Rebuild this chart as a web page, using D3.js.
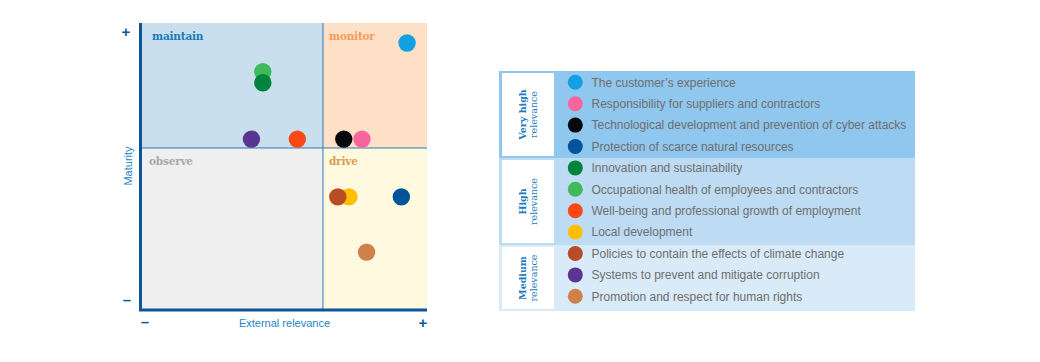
<!DOCTYPE html>
<html>
<head>
<meta charset="utf-8">
<script src="https://cdn.jsdelivr.net/npm/d3@7"></script>
<style>
  body { margin: 0; background: #fff; }
  svg { display: block; }
</style>
</head>
<body>
<div class="chart"></div>
<script>
// topics, colours and positions on the matrix (0-100 on both axes)
var topics = [
  "The customer\u2019s experience",
  "Responsibility for suppliers and contractors",
  "Technological development and prevention of cyber attacks",
  "Protection of scarce natural resources",
  "Innovation and sustainability",
  "Occupational health of employees and contractors",
  "Well-being and professional growth of employment",
  "Local development",
  "Policies to contain the effects of climate change",
  "Systems to prevent and mitigate corruption",
  "Promotion and respect for human rights"
];
var topicColors = ["#12a0e3", "#f7659f", "#05090c", "#00549a", "#00843d", "#3fb95b",
  "#fb4814", "#ffbf00", "#b84c24", "#5a3592", "#d0814a"];
var externalRelevance = [93.0, 77.2, 70.8, 91.0, 42.4, 42.4, 54.5, 72.6, 68.7, 38.4, 78.8];
var maturity = [93.0, 59.4, 59.4, 39.2, 79.1, 83.0, 59.4, 39.2, 39.2, 59.4, 19.9];

var groups = ["Very high|relevance", "High|relevance", "Medium|relevance"];
var groupSizes = [4, 4, 3];
var groupColors = ["#90c7ee", "#bddcf3", "#d9eaf8"];

var quadrants = ["maintain", "monitor", "observe", "drive"];
var splitX = 63.5, splitY = 56.3;

var svgWidth = 1040, svgHeight = 362;
var svg = d3.select(".chart").append("svg")
  .attr("width", svgWidth).attr("height", svgHeight);

// ---- matrix ----
var plot = {left: 142, right: 427, top: 23, bottom: 309};
var x = d3.scaleLinear().domain([0, 100]).range([plot.left, plot.right]);
var y = d3.scaleLinear().domain([0, 100]).range([plot.bottom, plot.top]);

var quadData = [
  {name: quadrants[0], x0: 0, x1: splitX, y0: splitY, y1: 100, fill: "#c9dfed", color: "#1b7bb8"},
  {name: quadrants[1], x0: splitX, x1: 100, y0: splitY, y1: 100, fill: "#fee0c6", color: "#f59c5a"},
  {name: quadrants[2], x0: 0, x1: splitX, y0: 0, y1: splitY, fill: "#efefef", color: "#a8a8a8"},
  {name: quadrants[3], x0: splitX, x1: 100, y0: 0, y1: splitY, fill: "#fffadf", color: "#d99d4f"}
];

svg.selectAll("rect.quad").data(quadData).enter().append("rect")
  .attr("class", "quad")
  .attr("x", d => x(d.x0)).attr("y", d => y(d.y1))
  .attr("width", d => x(d.x1) - x(d.x0)).attr("height", d => y(d.y0) - y(d.y1))
  .attr("fill", d => d.fill);

svg.selectAll("text.quad").data(quadData).enter().append("text")
  .attr("class", "quad")
  .attr("x", d => x(d.x0) + (d.x0 === 0 ? (d.y0 === 0 ? 7 : 10) : 6))
  .attr("y", d => y(d.y1) + 17)
  .attr("font-family", "DejaVu Serif")
  .attr("font-weight", "bold")
  .attr("font-size", "10.5px")
  .attr("letter-spacing", "-0.2px")
  .attr("fill", d => d.color)
  .text(d => d.name);

// dividers
svg.append("line")
  .attr("x1", x(splitX)).attr("x2", x(splitX)).attr("y1", y(100)).attr("y2", y(0))
  .attr("stroke", "#2b7cb8").attr("stroke-width", 1);
svg.append("line")
  .attr("x1", x(0)).attr("x2", x(100)).attr("y1", y(splitY)).attr("y2", y(splitY))
  .attr("stroke", "#2b7cb8").attr("stroke-width", 1);

// axes
svg.append("line")
  .attr("x1", x(0) - 1.5).attr("x2", x(0) - 1.5).attr("y1", y(100)).attr("y2", y(0) + 2)
  .attr("stroke", "#0b559b").attr("stroke-width", 3);
svg.append("line")
  .attr("x1", x(0) - 3).attr("x2", x(100)).attr("y1", y(0) + 1).attr("y2", y(0) + 1)
  .attr("stroke", "#0b559b").attr("stroke-width", 3);

var signs = [
  {t: "+", px: 126, py: 37},
  {t: "\u2013", px: 127, py: 305},
  {t: "\u2013", px: 145, py: 327},
  {t: "+", px: 423, py: 328}
];
svg.selectAll("text.sign").data(signs).enter().append("text")
  .attr("class", "sign")
  .attr("x", d => d.px).attr("y", d => d.py)
  .attr("text-anchor", "middle")
  .attr("font-family", "Liberation Sans, Arial, sans-serif")
  .attr("font-weight", "bold").attr("font-size", "15px")
  .attr("fill", "#0b559b")
  .text(d => d.t);

svg.append("text")
  .attr("x", (plot.left + plot.right) / 2).attr("y", 327)
  .attr("text-anchor", "middle")
  .attr("font-family", "Liberation Sans, Arial, sans-serif")
  .attr("font-size", "11px").attr("fill", "#2586c6")
  .text("External relevance");

svg.append("text")
  .attr("transform", `translate(132, ${(plot.top + plot.bottom) / 2}) rotate(-90)`)
  .attr("text-anchor", "middle")
  .attr("font-family", "Liberation Sans, Arial, sans-serif")
  .attr("font-size", "11px").attr("fill", "#2586c6")
  .text("Maturity");

// points
var points = topics.map((t, i) => ({name: t, ext: externalRelevance[i], mat: maturity[i], color: topicColors[i], i: i}));
// draw in an order so overlaps look like the original
var drawOrder = [5, 4, 7, 8, 0, 1, 2, 3, 6, 9, 10];
svg.selectAll("circle.pt").data(drawOrder.map(i => points[i])).enter().append("circle")
  .attr("class", "pt")
  .attr("cx", d => x(d.ext)).attr("cy", d => y(d.mat))
  .attr("r", 8.7)
  .attr("fill", d => d.color);

// ---- legend ----
var lg = {left: 499, right: 915, top: 71, rowH: 21.4, cellW: 52};
var rowY = d3.scaleLinear().domain([0, 1]).range([lg.top + 11.3, lg.top + 11.3 + lg.rowH]);

var start = 0;
var groupData = groups.map(function(g, k) {
  var d = {label: g.split("|"), from: start, to: start + groupSizes[k], color: groupColors[k]};
  start += groupSizes[k];
  return d;
});
var bounds = [lg.top, 158, 245, 311];
groupData.forEach(function(d, k) { d.y0 = bounds[k]; d.y1 = bounds[k + 1]; });

var legend = svg.append("g");
legend.selectAll("rect.grp").data(groupData).enter().append("rect")
  .attr("class", "grp")
  .attr("x", lg.left).attr("y", d => d.y0)
  .attr("width", lg.right - lg.left).attr("height", d => d.y1 - d.y0)
  .attr("fill", d => d.color);

legend.selectAll("rect.cell").data(groupData).enter().append("rect")
  .attr("class", "cell")
  .attr("x", lg.left + 3).attr("y", d => d.y0 + 2)
  .attr("width", lg.cellW).attr("height", d => d.y1 - d.y0 - 4)
  .attr("fill", "#fff");

var glabels = legend.selectAll("text.glab").data(groupData).enter().append("text")
  .attr("class", "glab")
  .attr("transform", d => `translate(${lg.left + 3 + lg.cellW / 2}, ${(d.y0 + d.y1) / 2}) rotate(-90)`)
  .attr("text-anchor", "middle")
  .attr("font-family", "DejaVu Serif")
  .attr("font-weight", "bold")
  .attr("font-size", "9.5px")
  .attr("fill", "#1f7cc0");
glabels.append("tspan").attr("x", 0).attr("dy", "-0.25em").text(d => d.label[0]);
glabels.append("tspan").attr("x", 0).attr("dy", "1.2em").attr("font-weight", "normal").text(d => d.label[1]);

legend.selectAll("circle.key").data(points).enter().append("circle")
  .attr("class", "key")
  .attr("cx", 575.3).attr("cy", d => rowY(d.i))
  .attr("r", 7.5)
  .attr("fill", d => d.color);

legend.selectAll("text.key").data(points).enter().append("text")
  .attr("class", "key")
  .attr("x", 591.5).attr("y", d => rowY(d.i) + 4.3)
  .attr("font-family", "Liberation Sans, Arial, sans-serif")
  .attr("font-size", "12px")
  .attr("fill", "#6e6e6e")
  .text(d => d.name);
</script>
</body>
</html>
